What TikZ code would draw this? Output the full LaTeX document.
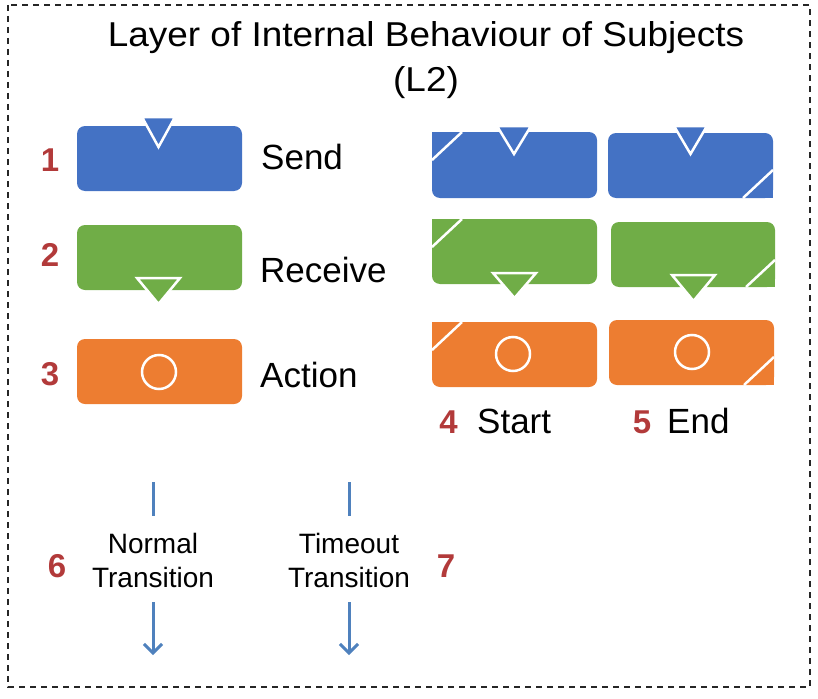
\documentclass[tikz,border=0pt]{standalone}
\usepackage{fontspec}
\setmainfont{Liberation Sans}
\usetikzlibrary{arrows.meta}
\definecolor{sblue}{HTML}{4472C4}
\definecolor{sgreen}{HTML}{70AD47}
\definecolor{sorange}{HTML}{ED7D31}
\definecolor{numred}{HTML}{B23A3A}
\definecolor{arrblue}{HTML}{4F81BD}
\tikzset{
  box/.style={rounded corners=8pt},
  whiteline/.style={draw=white,line width=2.5pt},
  num/.style={text=numred,font=\fontsize{33}{36}\selectfont\bfseries,anchor=base,inner sep=0pt},
  biglabel/.style={font=\fontsize{35}{40}\selectfont,anchor=base west,inner sep=0pt},
  titlelabel/.style={font=\fontsize{34.5}{40}\selectfont,anchor=base,inner sep=0pt},
  translabel/.style={font=\fontsize{28}{34}\selectfont,align=center,inner sep=0pt},
  transline/.style={draw=arrblue,line width=3pt},
  transarrow/.style={draw=arrblue,line width=3pt,-{Straight Barb[length=9pt,width=18pt,line width=3pt]}},
}
\begin{document}
\begin{tikzpicture}[x=1pt,y=-1pt]
\useasboundingbox (0,0) rectangle (818,698);
% frame
\draw[line width=1.3pt,dash pattern=on 6pt off 5pt,black!85] (8,5) rectangle (810,687);
% title
\node[titlelabel] (title) at (426,47) {\scalebox{1.07}[1]{Layer of Internal Behaviour of Subjects}};
\node[titlelabel] (title2) at (426,92) {\scalebox{1.07}[1]{(L2)}};

% ---- left column ----
% Send
\fill[sblue,box] (77,126) rectangle (242,191);
\coordinate (sendbox) at (159,158);
\filldraw[fill=sblue,whiteline] (142,117) -- (175,117) -- (158.5,147) -- cycle;
% Receive
\fill[sgreen,box] (77,225) rectangle (242,290);
\coordinate (recvbox) at (159,257);
\filldraw[fill=sgreen,whiteline] (137,278) -- (180,278) -- (158.5,304) -- cycle;
% Action
\fill[sorange,box] (77,339) rectangle (242,404);
\coordinate (actbox) at (159,372);
\draw[whiteline] (actbox) circle (17);

\node[num] (n1) at (50,171) {1};
\node[num] (n2) at (50,266) {2};
\node[num] (n3) at (50,385) {3};
\node[biglabel] (lsend) at (261,169) {Send};
\node[biglabel] (lrecv) at (260,282) {Receive};
\node[biglabel] (lact) at (260,387) {Action};

% ---- start column ----
\fill[sblue,box] (432,132) rectangle (597,198);
\fill[sblue] (432,132) rectangle (450,150);
\draw[whiteline] (432,160) -- (462,132);
\filldraw[fill=sblue,whiteline] (497,126) -- (531,126) -- (514,154) -- cycle;

\fill[sgreen,box] (432,219) rectangle (597,284);
\fill[sgreen] (432,219) rectangle (450,237);
\draw[whiteline] (432,247) -- (462,219);
\filldraw[fill=sgreen,whiteline] (493,273) -- (536,273) -- (514.5,298) -- cycle;

\fill[sorange,box] (432,322) rectangle (597,387);
\fill[sorange] (432,322) rectangle (450,340);
\draw[whiteline] (432,350) -- (462,322);
\draw[whiteline] (513,354) circle (17);

% ---- end column ----
\fill[sblue,box] (608,133) rectangle (773,198);
\fill[sblue] (755,180) rectangle (773,198);
\draw[whiteline] (743,198) -- (773,170);
\filldraw[fill=sblue,whiteline] (674,126) -- (707,126) -- (690.5,154) -- cycle;

\fill[sgreen,box] (611,222) rectangle (775,287);
\fill[sgreen] (757,269) rectangle (775,287);
\draw[whiteline] (746,287) -- (775,260);
\filldraw[fill=sgreen,whiteline] (672,275) -- (715,275) -- (693.5,301) -- cycle;

\fill[sorange,box] (609,320) rectangle (774,385);
\fill[sorange] (756,367) rectangle (774,385);
\draw[whiteline] (744,385) -- (774,357);
\draw[whiteline] (692,352) circle (17);

\node[num] (n4) at (448.5,433) {4};
\node[biglabel] (lstart) at (477,433) {Start};
\node[num] (n5) at (642,433) {5};
\node[biglabel] (lend) at (667,433) {End};

% ---- transitions ----
\node[translabel] (tnormal) at (153,560) {Normal\\Transition};
\node[translabel] (ttime) at (349,560) {Timeout\\Transition};
\coordinate (na) at (153,482);
\coordinate (nb) at (153,516);
\coordinate (nc) at (153,602);
\coordinate (nd) at (153,655);
\coordinate (ta) at (349,482);
\coordinate (tb) at (349,516);
\coordinate (tc) at (349,602);
\coordinate (td) at (349,655);
\draw[transline] (na) -- (nb);
\draw[transarrow] (nc) -- (nd);
\draw[transline] (ta) -- (tb);
\draw[transarrow] (tc) -- (td);
\node[num] (n6) at (57,577) {6};
\node[num] (n7) at (446,577) {7};
\end{tikzpicture}
\end{document}
